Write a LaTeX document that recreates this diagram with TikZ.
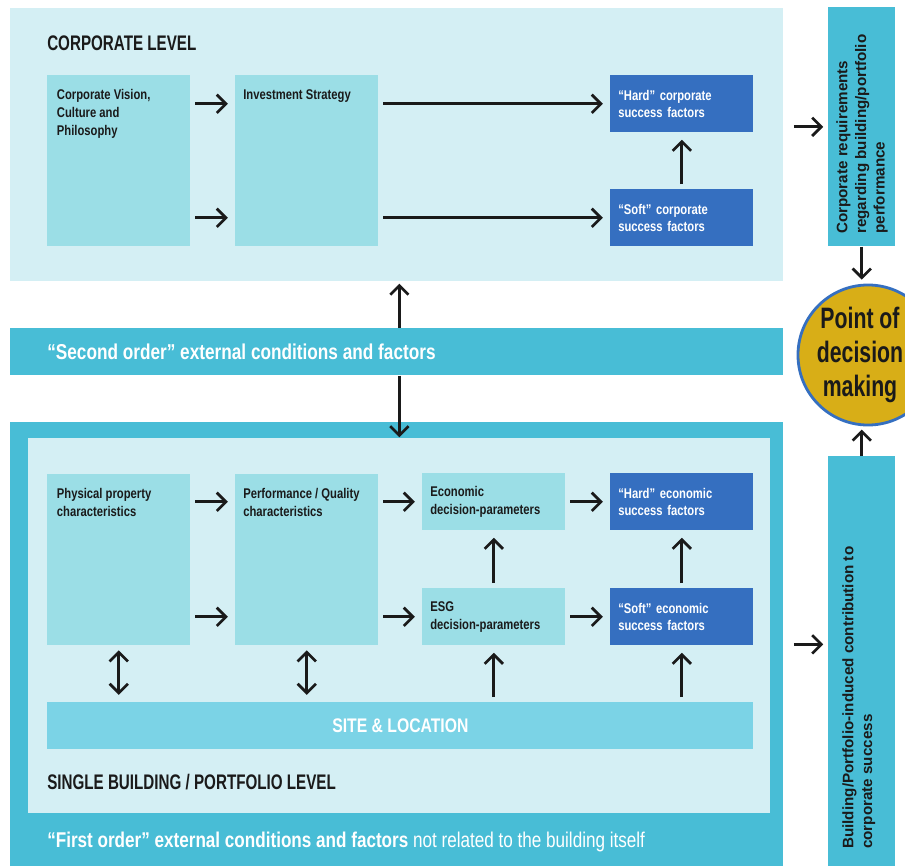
\documentclass[tikz,border=0pt]{standalone}
\usepackage{fontspec}
\setmainfont{Liberation Sans}[FakeStretch=0.8]
\newfontfamily\condfont{Liberation Sans}[FakeStretch=0.72]
\newfontfamily\plainfont{Liberation Sans}
\usetikzlibrary{arrows.meta,positioning}
\definecolor{panelc}{RGB}{212,239,244}
\definecolor{boxc}{RGB}{155,222,230}
\definecolor{factorc}{RGB}{53,111,192}
\definecolor{bandc}{RGB}{72,189,214}
\definecolor{sitec}{RGB}{123,211,230}
\definecolor{goldc}{RGB}{216,174,23}
\definecolor{ink}{RGB}{26,26,26}

\begin{document}
\begin{tikzpicture}[x=0.025cm, y=-0.025cm,
    every node/.style={font=\fontsize{10}{12.5}\selectfont\bfseries, text=ink},
    panel/.style={fill=panelc, anchor=north west, inner sep=0},
    band/.style={fill=bandc, anchor=north west, inner sep=0},
    bigbox/.style={fill=boxc, anchor=north west, inner sep=0,
        minimum width=3.575cm, minimum height=4.275cm},
    toptext/.style={anchor=north west, align=left, inner xsep=0.24cm, inner ysep=0.36cm},
    smallbox/.style={fill=boxc, anchor=north west, align=left, minimum height=1.425cm,
        text width=3.175cm, inner xsep=0.2cm, inner ysep=0},
    factor/.style={smallbox, fill=factorc, text=white},
    title/.style={anchor=west, inner sep=0, font=\condfont\fontsize{15}{18}\selectfont\bfseries},
    bandtext/.style={anchor=west, inner sep=0, text=white, font=\fontsize{15.3}{18}\selectfont\bfseries},
    sidetext/.style={rotate=90, anchor=north west, align=left, inner sep=0,
        font=\plainfont\fontsize{10.8}{13.3}\selectfont\bfseries},
    arr/.style={line width=1.9pt, draw=ink, -{Straight Barb[length=6.5pt,width=13pt]},
        shorten <=0.12cm, shorten >=0.18cm},
    darr/.style={arr, {Straight Barb[length=6.5pt,width=13pt]}-{Straight Barb[length=6.5pt,width=13pt]}}
  ]
  \useasboundingbox (0,0) rectangle (905,866);

  % corporate level
  \node[panel, minimum width=19.325cm, minimum height=6.825cm] (corp) at (10,8) {};
  \node[title] (corptitle) at (47,43) {CORPORATE LEVEL};
  \node[bigbox, label={[toptext]north west:{Corporate Vision,\\Culture and\\Philosophy}}] (vision) at (47,75) {};
  \node[bigbox, label={[toptext, inner xsep=0.2cm]north west:{Investment Strategy}}] (invest) at (235,75) {};
  \node[factor] (hard) at (610,75) {“Hard” corporate\\success factors};
  \node[factor] (softc) at (610,189) {“Soft” corporate\\success factors};

  \draw[arr] (vision.east |- hard) -- (invest.west |- hard);
  \draw[arr] (vision.east |- softc) -- (invest.west |- softc);
  \draw[arr] (invest.east |- hard) -- (hard.west);
  \draw[arr] (invest.east |- softc) -- (softc.west);
  \draw[arr] (softc.north) -- (hard.south);

  % second order band
  \node[band, minimum width=19.325cm, minimum height=1.175cm] (second) at (10,328) {};
  \node[bandtext] (secondtext) at (47,352) {“Second order” external conditions and factors};

  % building / portfolio level
  \node[band, minimum width=19.325cm, minimum height=11.1cm] (outer) at (10,422) {};
  \node[panel, minimum width=18.55cm, minimum height=9.375cm] (inner) at (28,438) {};
  \node[bigbox, label={[toptext]north west:{Physical property\\characteristics}}] (phys) at (47,474) {};
  \node[bigbox, label={[toptext, inner xsep=0.2cm]north west:{Performance / Quality\\characteristics}}] (perf) at (235,474) {};
  \node[smallbox] (econ) at (422,473) {Economic\\decision-parameters};
  \node[smallbox] (esg) at (422,588) {ESG\\decision-parameters};
  \node[factor] (hardeco) at (610,473) {“Hard” economic\\success factors};
  \node[factor] (softeco) at (610,588) {“Soft” economic\\success factors};
  \node[fill=sitec, anchor=north west, minimum width=17.65cm, minimum height=1.175cm, text=white,
      font=\fontsize{14}{17}\selectfont\bfseries] (site) at (47,702) {SITE \& LOCATION};
  \node[title] (buildtitle) at (47,782) {SINGLE BUILDING / PORTFOLIO LEVEL};
  \node[bandtext, font=\fontsize{15.2}{18}\selectfont] (firsttext) at (47,842)
      {\bfseries “First order” external conditions and factors \mdseries not related to the building itself};

  \draw[arr] (phys.east |- econ) -- (perf.west |- econ);
  \draw[arr] (phys.east |- esg) -- (perf.west |- esg);
  \draw[arr] (perf.east |- econ) -- (econ.west);
  \draw[arr] (perf.east |- esg) -- (esg.west);
  \draw[arr] (econ.east) -- (hardeco.west);
  \draw[arr] (esg.east) -- (softeco.west);
  \draw[arr] (esg.north) -- (econ.south);
  \draw[arr] (softeco.north) -- (hardeco.south);
  \draw[arr] (site.north -| esg) -- (esg.south);
  \draw[arr] (site.north -| softeco) -- (softeco.south);
  \draw[darr] (phys.south) -- (site.north -| phys);
  \draw[darr] (perf.south) -- (site.north -| perf);

  \draw[arr, shorten <=0pt, shorten >=0.05cm] (second.north -| inner.north) -- (corp.south -| inner.north);
  \draw[arr, shorten <=0pt, shorten >=0.02cm] (second.south -| inner.north) -- (inner.north);

  % right column
  \node[band, minimum width=1.675cm, minimum height=5.975cm] (req) at (828,7) {};
  \node[sidetext] (reqtext) at (836,234) {Corporate requirements\\regarding building/portfolio\\performance};
  \node[band, minimum width=1.675cm, minimum height=10.25cm] (contrib) at (828,456) {};
  \node[sidetext] (contribtext) at (842,849) {Building/Portfolio-induced contribution to\\corporate success};
  \node[circle, fill=goldc, draw=factorc, line width=2pt, minimum size=3.5cm, inner sep=0,
      label={[align=center, xshift=-0.2cm, font=\condfont\fontsize{21}{24}\selectfont\bfseries]center:{Point of\\decision\\making}}]
      (decision) at (868,355) {};

  \draw[arr, shorten <=0.25cm, shorten >=0.12cm] (corp.east |- req) -- (req.west);
  \draw[arr, shorten <=0.25cm, shorten >=0.12cm] (outer.east) -- (contrib.west |- outer.east);
  \draw[arr, shorten <=0pt, shorten >=0.1cm] (req.south) -- (req.south |- decision.north);
  \draw[arr, shorten <=0pt, shorten >=0.08cm] (contrib.north) -- (contrib.north |- decision.south);
\end{tikzpicture}
\end{document}
